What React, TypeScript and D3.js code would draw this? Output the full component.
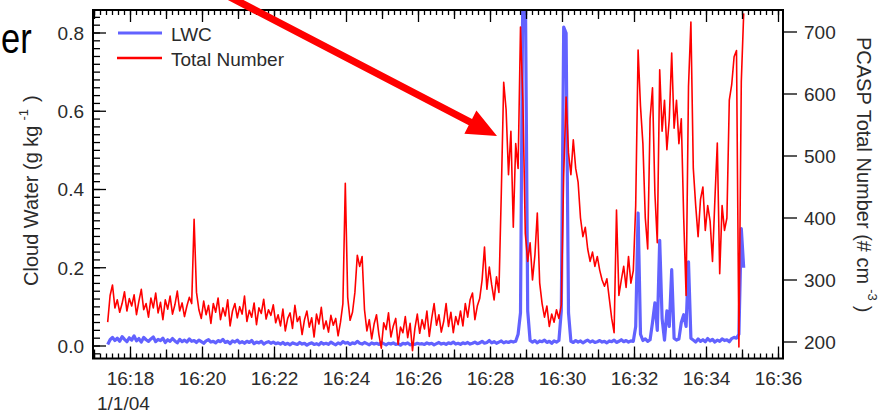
import React from "react";
import * as d3 from "d3";

// ---------------- data ----------------
const START = new Date(2004, 0, 1, 16, 17, 22);
const STEP_SECONDS = 4;

// PCASP total number (# cm^-3), one value per 4 s
const totalNumber = [
  232,275,292,255,268,248,262,281,250,270,258,276,244,266,285,252,262,240,271,255,279,247,264,236,268,253,274,245,260,282,250,263,241,258,272,262,398,280,
  252,238,266,244,259,230,262,248,271,236,255,242,268,226,250,262,239,257,245,274,233,251,240,263,228,255,246,269,237,252,243,260,231,
  244,226,253,218,238,247,222,259,233,241,212,236,250,224,239,208,245,229,256,221,234,216,243,227,238,210,232,
  262,456,272,235,248,280,340,322,338,252,
  218,236,205,229,244,212,190,231,220,247,208,226,238,196,224,215,241,207,230,186,222,245,214,
  236,221,250,209,238,262,227,244,216,
  233,262,225,248,215,241,228,250,226,262,
  240,268,279,236,258,270,300,353,285,321,
  292,268,305,280,440,619,575,470,540,385,
  520,480,708,590,375,330,360,300,340,408,
  295,262,240,258,225,245,232,252,238,260,
  470,595,505,470,526,480,458,400,370,385,
  350,330,345,322,338,316,300,290,302,270,
  238,215,413,275,300,322,288,338,295,315,
  420,671,580,520,400,350,560,610,440,360,
  639,540,590,510,560,666,545,590,520,560,
  400,275,612,716,480,420,370,430,450,380,
  420,395,330,430,521,310,420,380,400,590,
  615,660,670,192,620,730,
];

// Cloud liquid water content (g kg^-1), one value per 4 s
const lwc = [
  0.004,0.016,0.022,0.014,0.020,0.012,0.024,0.017,0.011,0.021,0.015,0.026,0.013,0.019,0.010,0.022,0.016,0.012,0.018,0.023,0.011,0.017,0.014,0.020,0.009,0.016,0.012,0.019,0.013,0.008,0.017,0.011,0.015,0.010,0.018,0.012,
  0.014,0.009,0.015,0.011,0.007,0.013,0.016,0.010,0.012,0.008,0.014,0.011,0.017,0.009,0.012,0.006,0.013,0.010,0.015,0.008,0.011,0.007,0.012,0.009,0.014,0.006,0.010,0.008,0.012,0.005,0.009,0.011,0.007,0.010,0.006,
  0.008,0.005,0.009,0.004,0.007,0.003,0.008,0.006,0.004,0.009,0.005,0.007,0.002,0.006,0.008,0.004,0.006,0.003,0.009,0.005,
  0.007,0.004,0.010,0.006,0.003,0.008,0.005,0.011,0.007,0.009,0.004,0.008,0.006,0.012,0.007,0.005,0.009,0.006,0.003,0.008,
  0.005,0.007,0.004,0.009,0.006,0.003,0.007,0.005,0.008,0.004,0.006,0.002,0.007,0.005,0.008,0.003,0.006,0.004,0.007,0.005,
  0.006,0.004,0.008,0.005,0.007,0.003,0.006,0.009,0.005,0.007,0.004,0.008,0.006,0.010,0.005,0.007,0.004,0.008,0.006,0.009,
  0.005,0.007,0.010,0.006,0.008,0.012,0.007,0.009,0.014,0.008,0.011,0.007,0.010,0.013,0.008,0.011,0.009,0.012,0.010,
  0.012,0.030,0.085,0.95,0.95,0.090,0.014,
  0.010,0.014,0.008,0.013,0.011,0.015,0.009,0.012,0.007,0.013,0.010,0.014,
  0.090,0.815,0.800,0.085,
  0.012,0.009,0.014,0.010,0.013,0.008,0.012,0.015,0.010,0.013,0.009,0.011,0.014,0.010,0.012,0.008,0.013,0.011,0.015,0.009,0.012,0.016,0.011,0.014,0.010,0.013,0.012,
  0.050,0.340,0.030,0.014,0.018,0.012,0.016,0.060,0.110,0.040,0.270,0.070,0.015,0.090,0.050,0.195,0.020,0.015,0.018,0.060,0.080,0.050,0.215,0.020,
  0.015,0.010,0.018,0.012,0.016,0.011,0.019,0.013,0.017,0.010,0.015,0.012,0.018,0.014,0.016,0.011,0.019,0.022,0.020,
  0.030,0.300,0.200,
];

const timeTickLabels = ["16:18","16:20","16:22","16:24","16:26","16:28","16:30","16:32","16:34","16:36"];
const dateLabel = "1/1/04";
const lwcTicks = [0, 0.2, 0.4, 0.6, 0.8];
const numberTicks = [200, 300, 400, 500, 600, 700];
const legendLabels = ["LWC", "Total Number"];
const leftTitle = "Cloud Water (g kg";
const leftSup = "-1";
const rightTitle = "PCASP Total Number (# cm";
const rightSup = "-3";
const cornerText = "er";

// ---------------- layout ----------------
const W = 888, H = 415;
const L = 93, R = 783, T = 10, B = 358.5;
const FONT = "'Liberation Sans', Arial, Helvetica, sans-serif";
const TEXT = "#2b2b2b";
const RED = "#ff0000";
const BLUE = "#6262ff";

const at = (hm: string) => {
  const [h, m] = hm.split(":").map(Number);
  return new Date(2004, 0, 1, h, m, 0);
};

export default function App() {
  const x = d3.scaleTime()
    .domain([new Date(2004, 0, 1, 16, 16, 57, 500), new Date(2004, 0, 1, 16, 36, 7, 500)])
    .range([L, R]);
  const yL = d3.scaleLinear().domain([0, 0.8]).range([346, 33]);
  const yR = d3.scaleLinear().domain([200, 700]).range([342, 32]);

  const times = totalNumber.map((_, i) => d3.timeSecond.offset(START, i * STEP_SECONDS));

  const redLine = d3.line<number>().x((_, i) => x(times[i])).y((d) => yR(d))(totalNumber) || "";
  const blueLine = d3.line<number>().x((_, i) => x(times[i])).y((d) => yL(d))(lwc) || "";

  const minorX = x.ticks(d3.timeSecond.every(10) as any);
  const minuteX = x.ticks(d3.timeMinute.every(1) as any);
  const minorY = d3.range(-1, 43).map((k) => k * 0.02).filter((v) => yL(v) > T + 1 && yL(v) < B - 1);

  // annotation arrow geometry
  const tail: [number, number] = [228, -4];
  const tip: [number, number] = [497, 136];
  const dx = tip[0] - tail[0], dy = tip[1] - tail[1];
  const len = Math.hypot(dx, dy);
  const ux = dx / len, uy = dy / len;
  const nx = -uy, ny = ux;
  const headLen = 30, headHalf = 13, shaftHalf = 3.6;
  const bx = tip[0] - ux * headLen, by = tip[1] - uy * headLen;
  const arrowPts = [
    [tail[0] + nx * shaftHalf, tail[1] + ny * shaftHalf],
    [bx + nx * shaftHalf, by + ny * shaftHalf],
    [bx + nx * headHalf, by + ny * headHalf],
    tip,
    [bx - nx * headHalf, by - ny * headHalf],
    [bx - nx * shaftHalf, by - ny * shaftHalf],
    [tail[0] - nx * shaftHalf, tail[1] - ny * shaftHalf],
  ].map((p) => p.join(",")).join(" ");

  return (
    <svg width={W} height={H} style={{ position: "absolute", left: 0, top: 0, background: "#fff" }} fontFamily={FONT}>
      <defs>
        <clipPath id="plot">
          <rect x={L} y={T} width={R - L} height={B - T} />
        </clipPath>
      </defs>
      <rect x={0} y={0} width={W} height={H} fill="#fff" />

      {/* data */}
      <g clipPath="url(#plot)">
        <path d={blueLine} fill="none" stroke={BLUE} strokeWidth={3.2} strokeLinejoin="round" />
        <path d={redLine} fill="none" stroke={RED} strokeWidth={1.6} strokeLinejoin="round" />
      </g>

      {/* frame */}
      <rect x={L} y={T} width={R - L} height={B - T} fill="none" stroke="#000" strokeWidth={2} />

      {/* bottom & top ticks (inward) */}
      <g stroke="#000" strokeWidth={1.3}>
        {minorX.map((d, i) => (
          <g key={"mx" + i}>
            <line x1={x(d)} x2={x(d)} y1={B} y2={B - 5} />
            <line x1={x(d)} x2={x(d)} y1={T} y2={T + 5} />
          </g>
        ))}
        {minuteX.map((d, i) => {
          const isLabel = d.getMinutes() % 2 === 0;
          const l = isLabel ? 12 : 9;
          return (
            <g key={"Mx" + i}>
              <line x1={x(d)} x2={x(d)} y1={B} y2={B - l} />
              <line x1={x(d)} x2={x(d)} y1={T} y2={T + l} />
            </g>
          );
        })}
        {/* left ticks (inward) */}
        {minorY.map((v, i) => (
          <line key={"my" + i} x1={L} x2={L + 7} y1={yL(v)} y2={yL(v)} />
        ))}
        {lwcTicks.map((v, i) => (
          <line key={"My" + i} x1={L} x2={L + 13} y1={yL(v)} y2={yL(v)} />
        ))}
        {/* right ticks (outward) */}
        {numberTicks.map((v, i) => (
          <line key={"Ry" + i} x1={R} x2={R + 14} y1={yR(v)} y2={yR(v)} />
        ))}
      </g>

      {/* tick labels */}
      <g fill={TEXT} fontSize={19}>
        {timeTickLabels.map((s, i) => (
          <text key={"tl" + i} x={x(at(s))} y={385} textAnchor="middle">{s}</text>
        ))}
        <text x={97} y={410}>{dateLabel}</text>
        {lwcTicks.map((v, i) => (
          <text key={"ll" + i} x={84} y={yL(v)} dy="0.36em" textAnchor="end">{d3.format(".1f")(v)}</text>
        ))}
        {numberTicks.map((v, i) => (
          <text key={"rl" + i} x={804} y={yR(v)} dy="0.36em" textAnchor="start">{v}</text>
        ))}
      </g>

      {/* axis titles */}
      <text transform="translate(38,286) rotate(-90)" fill={TEXT} fontSize={20}>
        {leftTitle}
        <tspan dx={5} dy={-10} fontSize={13}>{leftSup}</tspan>
        <tspan dx={7} dy={10}>)</tspan>
      </text>
      <text transform="translate(857,37) rotate(90)" fill={TEXT} fontSize={20}>
        {rightTitle}
        <tspan dx={5} dy={-11} fontSize={13}>{rightSup}</tspan>
        <tspan dx={5} dy={11}>)</tspan>
      </text>

      {/* legend */}
      <line x1={118} x2={162} y1={33} y2={33} stroke={BLUE} strokeWidth={3.2} />
      <text x={171} y={41} fill={TEXT} fontSize={19}>{legendLabels[0]}</text>
      <line x1={117} x2={162} y1={58} y2={58} stroke={RED} strokeWidth={2.4} />
      <text x={171} y={66} fill={TEXT} fontSize={19}>{legendLabels[1]}</text>

      {/* slide annotation */}
      <text transform="translate(1,53) scale(0.82,1)" fontSize={42} fill="#000">{cornerText}</text>
      <polygon points={arrowPts} fill="#ff0000" />
    </svg>
  );
}
